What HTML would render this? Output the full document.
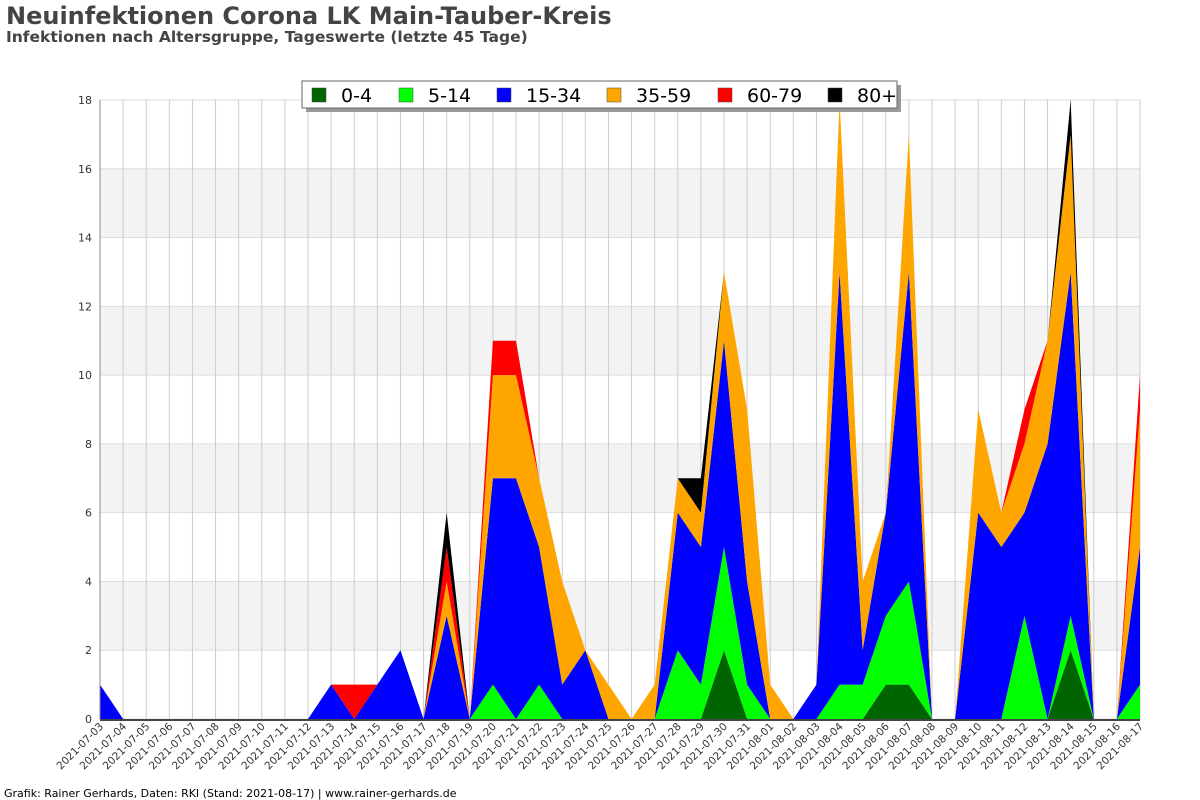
<!DOCTYPE html>
<html><head><meta charset="utf-8"><style>
body{margin:0;background:#fff;font-family:"Liberation Sans","DejaVu Sans",sans-serif}
#wrap{position:relative;width:1200px;height:800px;overflow:hidden}
</style></head><body>
<div id="wrap">
<svg id="svg" width="1200" height="800" xmlns="http://www.w3.org/2000/svg">
<text x="6" y="24" font-size="24" font-weight="bold" fill="#444" font-family="DejaVu Sans, sans-serif">Neuinfektionen Corona LK Main-Tauber-Kreis</text>
<text x="6" y="42" font-size="15.5" font-weight="bold" fill="#444" font-family="DejaVu Sans, sans-serif">Infektionen nach Altersgruppe, Tageswerte (letzte 45 Tage)</text>
<g id="grid"></g><g id="areas"></g><g id="axes"></g>
<g id="legend"></g>
<text x="4" y="797" font-size="11" fill="#000" font-family="DejaVu Sans, sans-serif">Grafik: Rainer Gerhards, Daten: RKI (Stand: 2021-08-17) | www.rainer-gerhards.de</text>
</svg></div>
<script>
const dates=["2021-07-03","2021-07-04","2021-07-05","2021-07-06","2021-07-07","2021-07-08","2021-07-09","2021-07-10","2021-07-11","2021-07-12","2021-07-13","2021-07-14","2021-07-15","2021-07-16","2021-07-17","2021-07-18","2021-07-19","2021-07-20","2021-07-21","2021-07-22","2021-07-23","2021-07-24","2021-07-25","2021-07-26","2021-07-27","2021-07-28","2021-07-29","2021-07-30","2021-07-31","2021-08-01","2021-08-02","2021-08-03","2021-08-04","2021-08-05","2021-08-06","2021-08-07","2021-08-08","2021-08-09","2021-08-10","2021-08-11","2021-08-12","2021-08-13","2021-08-14","2021-08-15","2021-08-16","2021-08-17"];
const g0_4 =[0,0,0,0,0,0,0,0,0,0,0,0,0,0,0,0,0,0,0,0,0,0,0,0,0,0,0,2,0,0,0,0,0,0,1,1,0,0,0,0,0,0,2,0,0,0];
const g5_14=[0,0,0,0,0,0,0,0,0,0,0,0,0,0,0,0,0,1,0,1,0,0,0,0,0,2,1,3,1,0,0,0,1,1,2,3,0,0,0,0,3,0,1,0,0,1];
const g15_34=[1,0,0,0,0,0,0,0,0,0,1,0,1,2,0,3,0,6,7,4,1,2,0,0,0,4,4,6,3,0,0,1,12,1,3,9,0,0,6,5,3,8,10,0,0,4];
const g35_59=[0,0,0,0,0,0,0,0,0,0,0,0,0,0,0,1,0,3,3,2,3,0,1,0,1,1,1,2,5,1,0,0,5,2,0,4,0,0,3,1,2,3,4,0,0,4];
const g60_79=[0,0,0,0,0,0,0,0,0,0,0,1,0,0,0,1,0,1,1,0,0,0,0,0,0,0,0,0,0,0,0,0,0,0,0,0,0,0,0,0,1,0,0,0,0,1];
const g80p =[0,0,0,0,0,0,0,0,0,0,0,0,0,0,0,1,0,0,0,0,0,0,0,0,0,0,1,0,0,0,0,0,0,0,0,0,0,0,0,0,0,0,1,0,0,0];
const seriesNames=["0-4","5-14","15-34","35-59","60-79","80+"];
const yTicks=[0,2,4,6,8,10,12,14,16,18];
const series=[g0_4,g5_14,g15_34,g35_59,g60_79,g80p];
const colors=["#006400","#00ff00","#0000ff","#ffa500","#ff0000","#000000"];
const NS="http://www.w3.org/2000/svg";
const X0=100,X1=1140,Y0=719,Y1=100,YMAX=18;
const xs=i=>X0+i*(X1-X0)/(dates.length-1);
const ys=v=>Y0-v*(Y0-Y1)/YMAX;
function mk(t,a,p){const e=document.createElementNS(NS,t);for(const k in a)e.setAttribute(k,a[k]);p.appendChild(e);return e;}
const grid=document.getElementById('grid'),areas=document.getElementById('areas'),axes=document.getElementById('axes'),legend=document.getElementById('legend');
for(let t=2;t<YMAX;t+=4){const b=mk('rect',{x:X0,y:ys(t+2),width:X1-X0,height:ys(t)-ys(t+2),fill:'#f3f3f3'},grid);

}
yTicks.forEach(t=>{const l=mk('line',{x1:X0,x2:X1,y1:ys(t),y2:ys(t),stroke:'#ddd'},grid);


const tx=mk('text',{x:X0-8,y:ys(t)+4,'font-size':11,'text-anchor':'end',fill:'#333','font-family':'DejaVu Sans, sans-serif'},axes);tx.textContent=t;

});
dates.forEach((d,i)=>{const l=mk('line',{x1:xs(i),x2:xs(i),y1:Y1,y2:Y0,stroke:'#ccc'},grid);


const tx=mk('text',{x:0,y:0,'font-size':10.5,'text-anchor':'end',fill:'#333','font-family':'DejaVu Sans, sans-serif',transform:`translate(${xs(i)+4},${Y0+8}) rotate(-45)`},axes);tx.textContent=d;

});
let base=dates.map(()=>0);
series.forEach((s,k)=>{const top=base.map((b,i)=>b+s[i]);
let pts=top.map((v,i)=>xs(i)+','+ys(v));for(let i=dates.length-1;i>=0;i--)pts.push(xs(i)+','+ys(base[i]));
const p=mk('polygon',{points:pts.join(' '),fill:colors[k]},areas);


base=top;});
const ax=mk('line',{x1:X0,x2:X0,y1:Y1,y2:Y0,stroke:'#888'},axes);


const bx=mk('line',{x1:X0,x2:X1,y1:Y0+1,y2:Y0+1,stroke:'#444','stroke-width':2},axes);


mk('rect',{x:306,y:85,width:595,height:27,fill:'#999'},legend);
mk('rect',{x:302,y:81,width:595,height:27,fill:'#fff',stroke:'#666'},legend);
const lx=[312,399,497,607,718,828];
seriesNames.forEach((n,k)=>{const sw=mk('rect',{x:lx[k],y:88,width:14,height:14,fill:colors[k],stroke:'#444','stroke-width':0.5},legend);


const t=mk('text',{x:lx[k]+29,y:102,'font-size':19,fill:'#000','font-family':'DejaVu Sans, sans-serif'},legend);t.textContent=n;

});
</script>
</body></html>
